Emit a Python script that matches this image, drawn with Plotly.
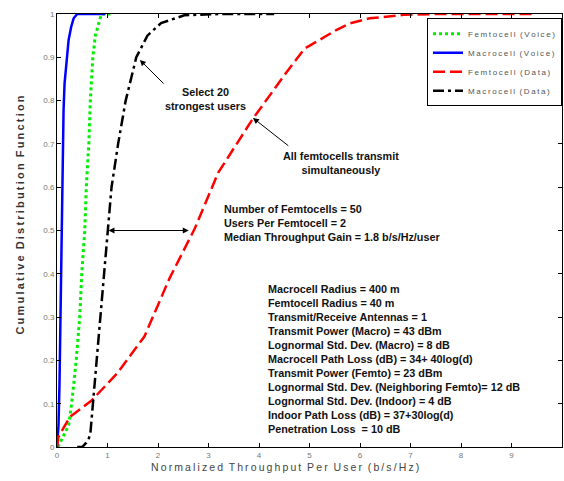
import plotly.graph_objects as go

TS = "\u2009"  # thin space used for the stretched lettering of the original


def spaced(s, sep=TS):
    return sep.join(list(s)).replace(sep + " " + sep, "  ")


# ---------------- data ----------------
femto_voice_x = [0.02, 0.10, 0.23, 0.29, 0.38, 0.45, 0.49, 0.55, 0.58, 0.63, 0.66, 0.71, 0.76, 0.83, 0.88, 1.06]
femto_voice_y = [0.00, 0.02, 0.05, 0.10, 0.20, 0.30, 0.40, 0.50, 0.60, 0.70, 0.80, 0.90, 0.95, 0.98, 1.00, 1.00]

macro_voice_x = [0.00, 0.03, 0.05, 0.07, 0.08, 0.09, 0.10, 0.11, 0.13, 0.15, 0.19, 0.23, 0.28, 0.33, 0.40, 0.60, 0.96]
macro_voice_y = [0.00, 0.05, 0.15, 0.30, 0.40, 0.50, 0.60, 0.70, 0.78, 0.84, 0.90, 0.94, 0.97, 0.99, 1.00, 1.00, 1.00]

femto_data_x = [0.00, 0.03, 0.26, 0.69, 1.19, 1.73, 2.23, 2.73, 3.19, 3.86, 4.53, 4.90, 5.20, 5.53, 5.79, 6.19, 6.86, 7.50, 9.40]
femto_data_y = [0.00, 0.024, 0.07, 0.108, 0.17, 0.255, 0.39, 0.505, 0.633, 0.755, 0.863, 0.92, 0.94, 0.963, 0.978, 0.99, 0.998, 1.00, 1.00]

macro_data_x = [0.40, 0.50, 0.58, 0.63, 0.66, 0.71, 0.79, 0.86, 0.93, 1.00, 1.08, 1.21, 1.36, 1.57, 1.79, 2.06, 2.52, 3.20, 4.30]
macro_data_y = [0.00, 0.00, 0.01, 0.02, 0.03, 0.10, 0.20, 0.30, 0.40, 0.50, 0.60, 0.70, 0.80, 0.90, 0.95, 0.979, 0.997, 1.00, 1.00]

x_ticks = [0, 1, 2, 3, 4, 5, 6, 7, 8, 9, 10]
y_ticks = [0, 0.1, 0.2, 0.3, 0.4, 0.5, 0.6, 0.7, 0.8, 0.9, 1]
y_tick_labels = ["0", "0.1", "0.2", "0.3", "0.4", "0.5", "0.6", "0.7", "0.8", "0.9", "1"]

names = ["Femtocell (Voice)", "Macrocell (Voice)", "Femtocell (Data)", "Macrocell (Data)"]

params = [
    "Macrocell Radius = 400 m",
    "Femtocell Radius = 40 m",
    "Transmit/Receive Antennas = 1",
    "Transmit Power (Macro) = 43 dBm",
    "Lognormal Std. Dev. (Macro) = 8 dB",
    "Macrocell Path Loss (dB) = 34+ 40log(d)",
    "Transmit Power (Femto) = 23 dBm",
    "Lognormal Std. Dev. (Neighboring Femto)= 12 dB",
    "Lognormal Std. Dev. (Indoor) = 4 dB",
    "Indoor Path Loss (dB) = 37+30log(d)",
    "Penetration Loss  = 10 dB",
]
summary = [
    "Number of Femtocells = 50",
    "Users Per Femtocell = 2",
    "Median Throughput Gain = 1.8 b/s/Hz/user",
]

# ---------------- figure ----------------
fig = go.Figure()
fig.add_trace(go.Scatter(x=femto_voice_x, y=femto_voice_y, mode="lines", name=spaced(names[0]),
                         line=dict(color="#00ee00", width=3, dash="dot")))
fig.add_trace(go.Scatter(x=macro_voice_x, y=macro_voice_y, mode="lines", name=spaced(names[1]),
                         line=dict(color="#0000ff", width=2.5)))
fig.add_trace(go.Scatter(x=femto_data_x, y=femto_data_y, mode="lines", name=spaced(names[2]),
                         line=dict(color="#ff0000", width=2.5, dash="12px,5px")))
fig.add_trace(go.Scatter(x=macro_data_x, y=macro_data_y, mode="lines", name=spaced(names[3]),
                         line=dict(color="#000000", width=2.5, dash="11px,4px,3px,4px")))

txt_font = dict(family="Liberation Sans, Arial, sans-serif", size=10.8, color="#111111")

fig.add_annotation(x=3.27, y=0.517, xref="x", yref="y", xanchor="left", yanchor="middle",
                   text="<b>" + "<br>".join(summary) + "</b>", align="left", showarrow=False, font=txt_font)
fig.add_annotation(x=4.14, y=0.204, xref="x", yref="y", xanchor="left", yanchor="middle",
                   text="<b>" + "<br>".join(params) + "</b>", align="left", showarrow=False, font=txt_font)

# callouts
fig.add_annotation(x=2.95, y=0.803, xref="x", yref="y", text="<b>Select 20<br>strongest users</b>",
                   showarrow=False, align="center", font=txt_font)
fig.add_annotation(x=1.64, y=0.894, ax=2.14, ay=0.836, xref="x", yref="y", axref="x", ayref="y",
                   text="", showarrow=True, arrowhead=2, arrowsize=1.2, arrowwidth=1, arrowcolor="#000")
fig.add_annotation(x=5.62, y=0.657, xref="x", yref="y",
                   text="<b>All femtocells transmit<br>simultaneously</b>",
                   showarrow=False, align="center", font=txt_font)
fig.add_annotation(x=3.88, y=0.76, ax=4.61, ay=0.693, xref="x", yref="y", axref="x", ayref="y",
                   text="", showarrow=True, arrowhead=2, arrowsize=1.2, arrowwidth=1, arrowcolor="#000")
# median gain double arrow
fig.add_annotation(x=1.02, y=0.5, ax=2.64, ay=0.5, xref="x", yref="y", axref="x", ayref="y",
                   text="", showarrow=True, arrowhead=2, startarrowhead=2, arrowside="end+start",
                   arrowsize=1.2, arrowwidth=1, arrowcolor="#000")

# axis titles (stretched lettering)
fig.add_annotation(x=0.451, y=-0.046, xref="paper", yref="paper", xanchor="center", yanchor="middle",
                   text=spaced("Normalized Throughput Per User (b/s/Hz)"),
                   showarrow=False,
                   font=dict(family="Liberation Sans, Arial, sans-serif", size=10.5, color="#444444"))
fig.add_annotation(x=-0.074, y=0.536, xref="paper", yref="paper", xanchor="center", yanchor="middle",
                   text="<b>" + spaced("Cumulative Distribution Function") + "</b>",
                   textangle=-90, showarrow=False,
                   font=dict(family="Liberation Sans, Arial, sans-serif", size=11, color="#333333"))

axis_common = dict(showgrid=False, zeroline=False, showline=True, linecolor="black", linewidth=1,
                   mirror="ticks", ticks="inside", ticklen=4, tickcolor="black", automargin=False,
                   tickfont=dict(family="Liberation Sans, Arial, sans-serif", size=8, color="#777777"))

fig.update_xaxes(range=[0, 10], tickvals=x_ticks, ticktext=[str(t) for t in x_ticks], **axis_common)
fig.update_yaxes(range=[0, 1], tickvals=y_ticks, ticktext=y_tick_labels, **axis_common)

fig.update_layout(
    width=564, height=481,
    margin=dict(l=57, r=2, t=14, b=34, autoexpand=False),
    paper_bgcolor="white", plot_bgcolor="white",
    legend=dict(x=1, xanchor="right", y=0.99, yanchor="top",
                bgcolor="white", bordercolor="black", borderwidth=1,
                font=dict(family="Liberation Sans, Arial, sans-serif", size=8, color="#555555"),
                tracegroupgap=0, itemwidth=30),
)

fig.write_html("out.html", post_script="document.body.style.margin='0px';",
               config={"displayModeBar": False})
